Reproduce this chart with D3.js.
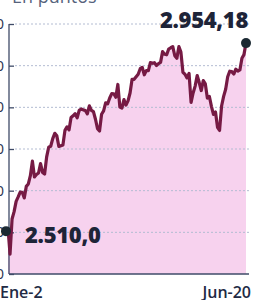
<!DOCTYPE html>
<html>
<head>
<meta charset="utf-8">
<script src="https://cdn.jsdelivr.net/npm/d3@7"></script>
<style>
  body { margin: 0; background: #fff; }
  svg { display: block; }
  text { font-family: "Open Sans", sans-serif; }
</style>
</head>
<body>
<svg id="chart" width="254" height="300"></svg>
<script>
// S&P 500 cierres diarios, 2 ene - 20 jun
const dates = [
  'Ene-2','Ene-3','Ene-4','Ene-7','Ene-8','Ene-9','Ene-10','Ene-11','Ene-14','Ene-15',
  'Ene-16','Ene-17','Ene-18','Ene-22','Ene-23','Ene-24','Ene-25','Ene-28','Ene-29','Ene-30',
  'Ene-31','Feb-1','Feb-4','Feb-5','Feb-6','Feb-7','Feb-8','Feb-11','Feb-12','Feb-13',
  'Feb-14','Feb-15','Feb-19','Feb-20','Feb-21','Feb-22','Feb-25','Feb-26','Feb-27','Feb-28',
  'Mar-1','Mar-4','Mar-5','Mar-6','Mar-7','Mar-8','Mar-11','Mar-12','Mar-13','Mar-14',
  'Mar-15','Mar-18','Mar-19','Mar-20','Mar-21','Mar-22','Mar-25','Mar-26','Mar-27','Mar-28',
  'Mar-29','Abr-1','Abr-2','Abr-3','Abr-4','Abr-5','Abr-8','Abr-9','Abr-10','Abr-11',
  'Abr-12','Abr-15','Abr-16','Abr-17','Abr-18','Abr-22','Abr-23','Abr-24','Abr-25','Abr-26',
  'Abr-29','Abr-30','May-1','May-2','May-3','May-6','May-7','May-8','May-9','May-10',
  'May-13','May-14','May-15','May-16','May-17','May-20','May-21','May-22','May-23','May-24',
  'May-28','May-29','May-30','May-31','Jun-3','Jun-4','Jun-5','Jun-6','Jun-7','Jun-10',
  'Jun-11','Jun-12','Jun-13','Jun-14','Jun-17','Jun-18','Jun-19','Jun-20'
];
const values = [
  2510.03,2447.89,2531.94,2549.69,2574.41,2584.96,2596.64,2596.26,2582.61,2610.30,
  2616.10,2635.96,2670.71,2632.90,2638.70,2642.33,2664.76,2643.85,2640.00,2681.05,
  2704.10,2706.53,2724.87,2737.70,2731.61,2706.05,2707.88,2709.80,2744.73,2753.03,
  2745.73,2775.60,2779.76,2784.70,2774.88,2792.67,2796.11,2793.90,2792.38,2784.49,
  2803.69,2792.81,2789.65,2771.45,2748.93,2743.07,2783.30,2791.52,2810.92,2808.48,
  2822.48,2832.94,2832.57,2824.23,2854.88,2800.71,2798.36,2818.46,2805.37,2815.44,
  2834.40,2867.19,2867.24,2873.40,2879.39,2892.74,2895.77,2878.20,2888.21,2888.32,
  2907.41,2905.58,2907.06,2900.45,2905.03,2907.97,2933.68,2927.25,2926.17,2939.88,
  2943.03,2945.83,2923.73,2917.52,2945.64,2932.47,2884.05,2879.42,2870.72,2881.40,
  2811.87,2834.41,2850.96,2876.32,2859.53,2840.23,2864.36,2856.27,2822.24,2826.06,
  2802.39,2783.02,2788.86,2752.06,2744.45,2803.27,2826.15,2843.49,2873.34,2886.73,
  2885.72,2879.84,2891.64,2886.98,2889.67,2917.75,2926.46,2954.18
];
const yTicks = [2400, 2500, 2600, 2700, 2800, 2900, 3000];
const xLabels = ['Ene-2', 'Jun-20'];

const fmt = d3.formatLocale({decimal: ',', thousands: '.', grouping: [3]});

const svg = d3.select('#chart');
const mLeft = 8, mRight = 246, mTop = 24, mBottom = 274;

const x = d3.scalePoint().domain(dates).range([mLeft, mRight]);
const y = d3.scaleLinear().domain([2400, 3000]).range([mBottom, mTop]);

const data = dates.map((d, i) => ({date: d, value: values[i]}));

// titulo (cortado arriba)
svg.append('text')
    .attr('x', 12).attr('y', 3)
    .attr('fill', '#56637c')
    .style('font-size', '18px')
    .text('En puntos');

// area
svg.append('path')
    .datum(data)
    .attr('fill', '#f7d2ee')
    .attr('d', d3.area()
        .x(d => x(d.date))
        .y0(mBottom)
        .y1(d => y(d.value)));

// grid
svg.append('g')
    .selectAll('line')
    .data(yTicks.slice(1))
    .enter()
    .append('line')
    .attr('x1', 15).attr('x2', 249)
    .attr('y1', d => y(d)).attr('y2', d => y(d))
    .attr('stroke', '#b3bcd2')
    .attr('stroke-width', 1)
    .attr('stroke-dasharray', '2,2');

// eje y
let yAxis = svg.append('g')
    .attr('transform', `translate(${mLeft + 1},0)`)
    .call(d3.axisRight(y).tickValues(yTicks).tickSize(5).tickFormat(''));
yAxis.select('.domain')
    .attr('d', `M0,${y(3000)}V${mBottom}`);
yAxis.selectAll('line, .domain').attr('stroke', '#3f4b68').attr('stroke-width', 1.3);

// etiquetas eje y (cortadas a la izquierda)
svg.append('g')
    .selectAll('text')
    .data(yTicks)
    .enter()
    .append('text')
    .attr('x', 4)
    .attr('y', d => y(d) + 5)
    .attr('text-anchor', 'end')
    .attr('fill', '#2e3550')
    .style('font-size', '15px')
    .text(d => fmt.format(',')(d));

// eje x
svg.append('line')
    .attr('x1', mLeft + 1).attr('x2', 249)
    .attr('y1', mBottom).attr('y2', mBottom)
    .attr('stroke', '#3f4b68').attr('stroke-width', 1.3);

svg.append('g')
    .selectAll('text')
    .data(xLabels)
    .enter()
    .append('text')
    .attr('x', (d, i) => i === 0 ? 0 : 251)
    .attr('y', 298)
    .attr('text-anchor', (d, i) => i === 0 ? 'start' : 'end')
    .attr('fill', '#222a44')
    .style('font-size', '16px')
    .style('font-weight', 600)
    .text(d => d);

// linea
svg.append('path')
    .datum(data)
    .attr('fill', 'none')
    .attr('stroke', '#761a44')
    .attr('stroke-width', 3.2)
    .attr('stroke-linejoin', 'round')
    .attr('d', d3.line()
        .x(d => x(d.date))
        .y(d => y(d.value)));

// puntos y valores extremos
let ends = [data[0], data[data.length - 1]];
svg.selectAll('.end-dot')
    .data(ends)
    .enter()
    .append('circle')
    .classed('end-dot', true)
    .attr('cx', (d, i) => x(d.date) - (i === 0 ? 2 : 0))
    .attr('cy', (d, i) => y(d.value) + (i === 0 ? 3 : 0))
    .attr('r', 5)
    .attr('fill', '#1c2a33');

svg.append('text')
    .attr('x', 25).attr('y', y(ends[0].value) + 15)
    .attr('fill', '#1e2438')
    .style('font-size', '22px')
    .style('font-weight', 800)
    .style('letter-spacing', '-0.3px')
    .text(fmt.format(',.1f')(ends[0].value));

svg.append('text')
    .attr('x', 248).attr('y', 28)
    .attr('text-anchor', 'end')
    .attr('fill', '#1e2438')
    .style('font-size', '22px')
    .style('font-weight', 800)
    .style('letter-spacing', '-0.3px')
    .text(fmt.format(',.2f')(ends[1].value));
</script>
</body>
</html>
